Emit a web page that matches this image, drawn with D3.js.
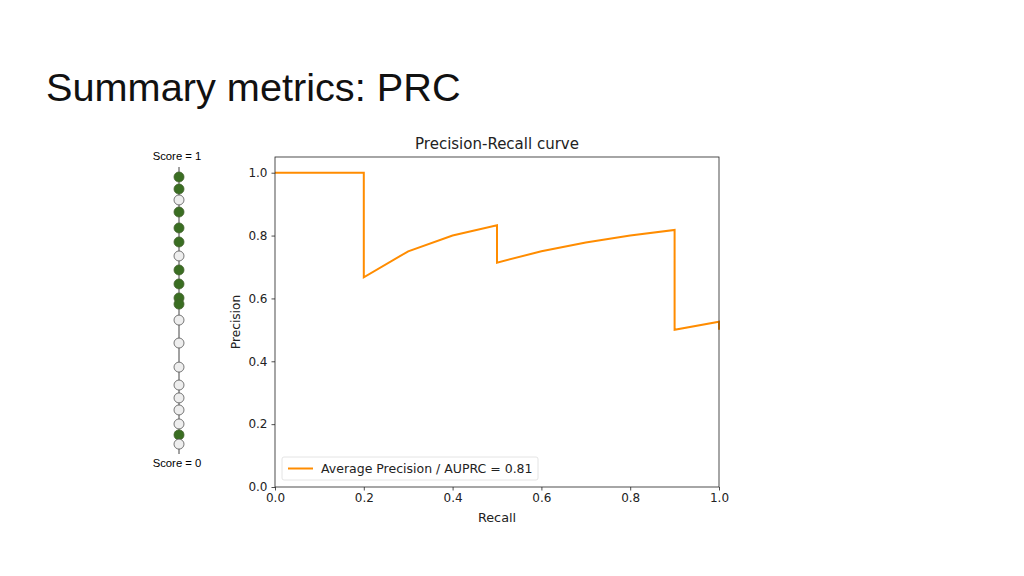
<!DOCTYPE html>
<html>
<head>
<meta charset="utf-8">
<script src="https://cdn.jsdelivr.net/npm/d3@7"></script>
<style>
  body { margin: 0; background: #fff; }
  svg { display: block; }
  .mpl text { font-family: "DejaVu Sans", sans-serif; }
</style>
</head>
<body>
<script>
// ranked examples, top score first
var scores = [0.975, 0.932, 0.893, 0.85, 0.793, 0.743, 0.693, 0.643, 0.593, 0.543,
              0.521, 0.464, 0.382, 0.296, 0.232, 0.186, 0.143, 0.093, 0.054, 0.021];
var labels = [1, 1, 0, 1, 1, 1, 0, 1, 1, 1,
              1, 0, 0, 0, 0, 0, 0, 0, 1, 0];

// precision-recall curve points
var recall    = [0, 0.1, 0.2, 0.2, 0.3, 0.4, 0.5, 0.5, 0.6, 0.7, 0.8, 0.9, 0.9, 1.0, 1.0];
var precision = [1, 1, 1, 0.667, 0.75, 0.8, 0.833, 0.714, 0.75, 0.778, 0.8, 0.818, 0.5, 0.526, 0.5];
var xTicks = [0, 0.2, 0.4, 0.6, 0.8, 1.0];
var yTicks = [0, 0.2, 0.4, 0.6, 0.8, 1.0];
var legendText = "Average Precision / AUPRC = 0.81";

var width = 1024, height = 576;

var svg = d3.select("body").append("svg")
    .attr("width", width)
    .attr("height", height);

svg.append("text")
    .attr("x", 46)
    .attr("y", 101)
    .style("font-family", "'Liberation Sans', Arial, sans-serif")
    .style("font-size", "39.7px")
    .attr("fill", "#111")
    .text("Summary metrics: PRC");

// score column on the left
var sx = 179;
var sScale = d3.scaleLinear().domain([0, 1]).range([450, 170]);

var col = svg.append("g").attr("class", "scores");
col.append("line")
    .attr("x1", sx).attr("x2", sx)
    .attr("y1", 167).attr("y2", 454)
    .attr("stroke", "#444").attr("stroke-width", 1);

col.selectAll("circle")
    .data(scores)
    .enter().append("circle")
    .attr("cx", sx)
    .attr("cy", function(d) { return sScale(d); })
    .attr("r", 5)
    .attr("fill", function(d, i) { return labels[i] == 1 ? "#3a6e22" : "#eeeeee"; })
    .attr("stroke", function(d, i) { return labels[i] == 1 ? "#44612f" : "#555"; })
    .attr("stroke-width", 0.8);

col.append("text")
    .attr("x", sx - 2).attr("y", 160)
    .attr("text-anchor", "middle")
    .style("font-family", "'Liberation Sans', Arial, sans-serif")
    .style("font-size", "11.3px")
    .text("Score = 1");
col.append("text")
    .attr("x", sx - 2).attr("y", 467)
    .attr("text-anchor", "middle")
    .style("font-family", "'Liberation Sans', Arial, sans-serif")
    .style("font-size", "11.3px")
    .text("Score = 0");

// PR chart
var margin = {left: 275, top: 157, right: 719, bottom: 487};
var g = svg.append("g").attr("class", "mpl");

var x = d3.scaleLinear().domain([0, 1]).range([margin.left, margin.right]);
var y = d3.scaleLinear().domain([0, 1.05]).range([margin.bottom, margin.top]);

var line = d3.line()
    .x(function(d, i) { return x(recall[i]); })
    .y(function(d) { return y(d); });

g.append("path")
    .datum(precision)
    .attr("d", line)
    .attr("fill", "none")
    .attr("stroke", "darkorange")
    .attr("stroke-width", 2)
    .attr("stroke-linejoin", "miter");

var xAxis = d3.axisBottom(x).tickValues(xTicks).tickFormat(d3.format(".1f")).tickSize(3.5).tickPadding(3);
var yAxis = d3.axisLeft(y).tickValues(yTicks).tickFormat(d3.format(".1f")).tickSize(3.5).tickPadding(4);

var gx = g.append("g")
    .attr("transform", "translate(0," + margin.bottom + ")")
    .call(xAxis);
var gy = g.append("g")
    .attr("transform", "translate(" + margin.left + ",0)")
    .call(yAxis);

[gx, gy].forEach(function(a) {
  a.select(".domain").remove();
  a.selectAll("line").attr("stroke", "#222").attr("stroke-width", 0.8);
  a.selectAll("text").style("font-size", "12px").attr("fill", "#222");
});

g.append("rect")
    .attr("x", margin.left).attr("y", margin.top)
    .attr("width", margin.right - margin.left)
    .attr("height", margin.bottom - margin.top)
    .attr("fill", "none")
    .attr("stroke", "#222")
    .attr("stroke-width", 0.8);

g.append("text")
    .attr("x", (margin.left + margin.right) / 2)
    .attr("y", 149)
    .attr("text-anchor", "middle")
    .style("font-size", "15px")
    .attr("fill", "#222")
    .text("Precision-Recall curve");

g.append("text")
    .attr("x", (margin.left + margin.right) / 2)
    .attr("y", 522)
    .attr("text-anchor", "middle")
    .style("font-size", "12.8px")
    .attr("fill", "#222")
    .text("Recall");

g.append("text")
    .attr("transform", "translate(240," + (margin.top + margin.bottom) / 2 + ") rotate(-90)")
    .attr("text-anchor", "middle")
    .style("font-size", "12.2px")
    .attr("fill", "#222")
    .text("Precision");

// legend
var leg = g.append("g").attr("transform", "translate(282,457)");
leg.append("rect")
    .attr("width", 256).attr("height", 23)
    .attr("rx", 2)
    .attr("fill", "#fff")
    .attr("stroke", "#ddd")
    .attr("stroke-width", 0.8);
leg.append("line")
    .attr("x1", 6).attr("x2", 31)
    .attr("y1", 11.5).attr("y2", 11.5)
    .attr("stroke", "darkorange")
    .attr("stroke-width", 2);
leg.append("text")
    .attr("x", 39).attr("y", 16)
    .style("font-size", "12.5px")
    .attr("fill", "#222")
    .text(legendText);
</script>
</body>
</html>
